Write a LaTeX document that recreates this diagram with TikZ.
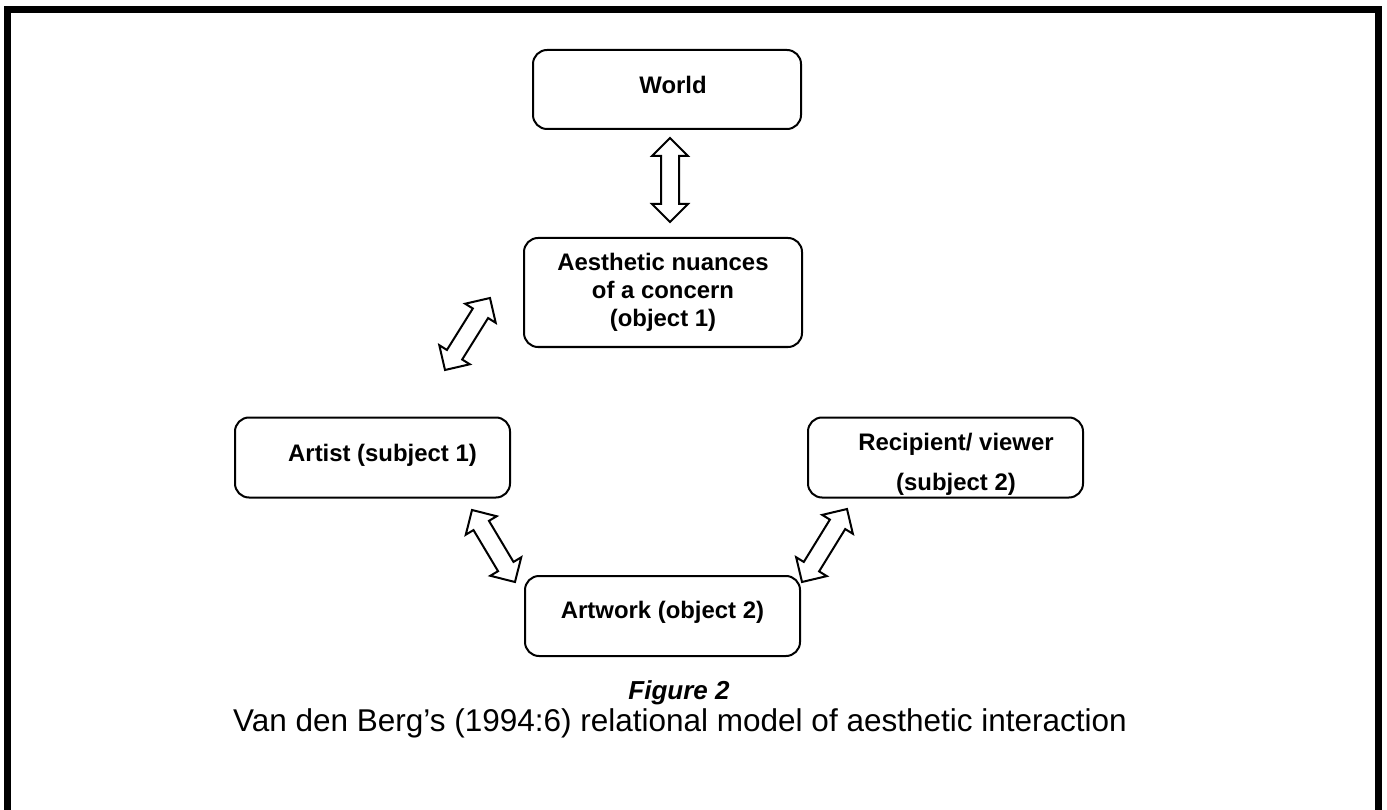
\documentclass[tikz,border=0pt]{standalone}
\usepackage{fontspec}
\setmainfont{Liberation Sans}
\usetikzlibrary{shapes.arrows,calc}

\tikzset{
  roundbox/.style={draw, line width=2pt, rounded corners=14pt, minimum width=275pt, minimum height=80pt,
    inner sep=0pt, font=\bfseries\fontsize{23.9}{28}\selectfont},
  twoway/.style={double arrow, draw, line width=2pt, fill=white, inner sep=8pt,
    double arrow head extend=9pt, double arrow tip angle=90, minimum width=34pt}
}
% hollow two-headed arrow between two named points
\newcommand\linkarrow[3]{%
  \path let \p1=(#2), \p2=(#3), \n1={atan2(\y2-\y1,\x2-\x1)}, \n2={veclen(\x2-\x1,\y2-\y1)} in
    node[twoway, rotate=\n1, minimum height=\n2] (#1) at ($(#2)!0.5!(#3)$) {};}

\begin{document}
\begin{tikzpicture}[x=1pt, y=-1pt]
  \useasboundingbox (0,0) rectangle (1387,810);
  \draw[line width=7pt, miter limit=10] (7.5,820) -- (7.5,9.5) -- (1378,9.5) -- (1378,820);

  \node[roundbox, minimum width=268pt, minimum height=79pt, text height=17.5pt, text depth=9.5pt] (world) at (667,89.5) {\hspace*{12pt}World};
  \node[roundbox, minimum width=278pt, minimum height=109pt, align=center] (nuance) at (663,292.5)
    {Aesthetic nuances\\ of a concern\\ (object 1)};
  \node[roundbox, text height=17.5pt, text depth=9.5pt] (artist) at (372.5,457.5) {\hspace*{20pt}Artist (subject 1)};
  \node[roundbox, align=center, font=\bfseries\fontsize{23.9}{40.5}\selectfont] (viewer) at (945.5,457.5)
    {\rule{0pt}{31pt}\hspace*{21pt}Recipient/ viewer\\ \hspace*{21pt}(subject 2)};
  \node[roundbox, text height=17.5pt, text depth=13pt] (artwork) at (662.5,616) {Artwork (object 2)};

  \coordinate (w1) at (670,138);
  \coordinate (w2) at (670,222);
  \coordinate (a1) at (490,298);
  \coordinate (a2) at (445,370);
  \coordinate (b1) at (472,510);
  \coordinate (b2) at (515,582);
  \coordinate (c1) at (847,509);
  \coordinate (c2) at (802,582);

  \linkarrow{wn}{w1}{w2}
  \linkarrow{an}{a1}{a2}
  \linkarrow{bn}{b1}{b2}
  \linkarrow{cn}{c1}{c2}

  \node[anchor=base, inner sep=0pt, font=\bfseries\itshape\fontsize{26}{30}\selectfont] (fig) at (679,699) {Figure 2};
  \node[anchor=base, inner sep=0pt, font=\fontsize{31.5}{36}\selectfont] (caption) at (680,731)
    {Van den Berg’s (1994:6) relational model of aesthetic interaction};
\end{tikzpicture}
\end{document}
